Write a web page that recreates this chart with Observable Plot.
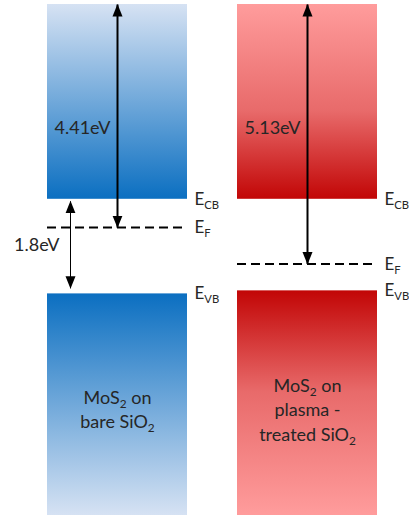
<!DOCTYPE html>
<html>
<head>
<meta charset="utf-8">
<script src="https://cdn.jsdelivr.net/npm/d3@7"></script>
<script src="https://cdn.jsdelivr.net/npm/@observablehq/plot@0.6"></script>
<style>
  html, body { margin: 0; padding: 0; background: #fff; }
  svg { display: block; }
</style>
</head>
<body>
<script>
// ---- data (energies in eV, vacuum level = 0) ----
const samples = ["bare", "plasma"];
const sampleLabels = [["MoS_{2} on", "bare SiO_{2}"], ["MoS_{2} on", "plasma -", "treated SiO_{2}"]];
const vacuumLevel = [0, 0];
const conductionBand = [-3.85, -3.85];
const fermiLevel = [-4.41, -5.13];
const valenceBand = [-5.72, -5.66];
const bandGap = 1.8;
const bandBottom = -10.1;
const levelNames = ["E_{CB}", "E_{F}", "E_{VB}"];
const energyLabelE = -2.45;   // where the work-function text sits
const sampleLabelE = -7.98;   // centre of the sample text block

// ---- styles ----
const gradients = {
  cb0: [[0, "#d6e2f3"], [1, "#0b6fc1"]],
  vb0: [[0, "#0b6fc1"], [1, "#d6e2f3"]],
  cb1: [[0, "#ff9c9c"], [0.55, "#e86a6a"], [1, "#c20606"]],
  vb1: [[0, "#c20606"], [0.45, "#e86a6a"], [1, "#ff9c9c"]]
};
const textColor = "#262626";
const font = "Lato";

const rows = samples.map((s, i) => ({
  sample: s, idx: i,
  vac: vacuumLevel[i], cb: conductionBand[i], ef: fermiLevel[i], vb: valenceBand[i],
  bottom: bandBottom,
  wf: Math.abs(fermiLevel[i]).toFixed(2) + "eV",
  label: sampleLabels[i].join("\n")
}));
const levelRows = rows.flatMap(d => [
  {sample: d.sample, e: d.cb, name: levelNames[0]},
  {sample: d.sample, e: d.ef, name: levelNames[1]},
  {sample: d.sample, e: d.vb, name: levelNames[2]}
]);

const marks = [];
rows.forEach((d, i) => {
  marks.push(Plot.barY([d], {x: "sample", y1: "vac", y2: "cb", fill: `url(#cb${i})`, insetLeft: 0, insetRight: 0}));
  marks.push(Plot.barY([d], {x: "sample", y1: "vb", y2: "bottom", fill: `url(#vb${i})`, insetLeft: 0, insetRight: 0}));
});
marks.push(
  Plot.tickY(rows, {x: "sample", y: "ef", stroke: "#000", strokeWidth: 2, strokeDasharray: "9,5"}),
  Plot.link(rows, {x1: "sample", x2: "sample", y1: "vac", y2: "ef", stroke: "#000", strokeWidth: 2}),
  Plot.link([rows[0]], {x1: "sample", x2: "sample", y1: d => d.cb - 0.04, y2: d => d.cb - bandGap + 0.04, dx: -47, stroke: "#000", strokeWidth: 1}),
  Plot.text(rows, {x: "sample", y: () => energyLabelE, text: "wf", dx: -63, textAnchor: "start", fontSize: 18, fontFamily: font, fill: textColor}),
  Plot.text([rows[0]], {x: "sample", y: d => d.cb - bandGap / 2, text: () => bandGap + "eV", dx: -58, textAnchor: "end", fontSize: 18, fontFamily: font, fill: textColor}),
  Plot.text(levelRows, {x: "sample", y: "e", text: "name", dx: 77, textAnchor: "start", fontSize: 17, fontFamily: font, fill: textColor}),
  Plot.text(rows, {x: "sample", y: () => sampleLabelE, text: "label", lineHeight: 1.36, lineAnchor: "middle", fontSize: 18, fontFamily: font, fill: textColor})
);

const svg = Plot.plot({
  width: 409,
  height: 517,
  marginTop: 4,
  marginBottom: 2,
  marginLeft: 47,
  marginRight: 32,
  style: {background: "#fff", fontFamily: font},
  x: {type: "band", domain: samples, paddingInner: 50 / 190, paddingOuter: 0, round: false, axis: null},
  y: {domain: [bandBottom, 0], axis: null},
  marks
});

// gradients & arrow heads
const ns = "http://www.w3.org/2000/svg";
const root = d3.select(svg);
const defs = root.insert("defs", ":first-child");
Object.entries(gradients).forEach(([id, stops]) => {
  const g = defs.append("linearGradient").attr("id", id)
    .attr("x1", 0).attr("y1", 0).attr("x2", 0).attr("y2", 1);
  stops.forEach(([o, c]) => g.append("stop").attr("offset", o).attr("stop-color", c));
});
defs.append("marker").attr("id", "ah")
  .attr("viewBox", "0 -5.5 13 11").attr("refX", 12).attr("refY", 0)
  .attr("markerWidth", 13).attr("markerHeight", 11)
  .attr("markerUnits", "userSpaceOnUse").attr("orient", "auto-start-reverse")
  .append("path").attr("d", "M0,-5L12.5,0L0,5Z").attr("fill", "#000");
root.selectAll('g[aria-label="link"] path')
  .attr("marker-start", "url(#ah)").attr("marker-end", "url(#ah)");

// subscripts
root.selectAll("text, tspan").each(function () {
  if (this.children.length) return;
  const s = this.textContent;
  if (!s.includes("_{")) return;
  this.textContent = "";
  const re = /_\{([^}]*)\}/g;
  let last = 0, m;
  while ((m = re.exec(s))) {
    if (m.index > last) {
      const t = document.createElementNS(ns, "tspan");
      t.textContent = s.slice(last, m.index);
      if (last > 0) t.setAttribute("dy", -4);
      this.appendChild(t);
    }
    const sub = document.createElementNS(ns, "tspan");
    sub.textContent = m[1];
    sub.setAttribute("dy", 4);
    sub.setAttribute("font-size", "0.66em");
    this.appendChild(sub);
    last = re.lastIndex;
  }
  if (last < s.length) {
    const t = document.createElementNS(ns, "tspan");
    t.textContent = s.slice(last);
    t.setAttribute("dy", -4);
    this.appendChild(t);
  }
});

document.body.appendChild(svg);
</script>
</body>
</html>
